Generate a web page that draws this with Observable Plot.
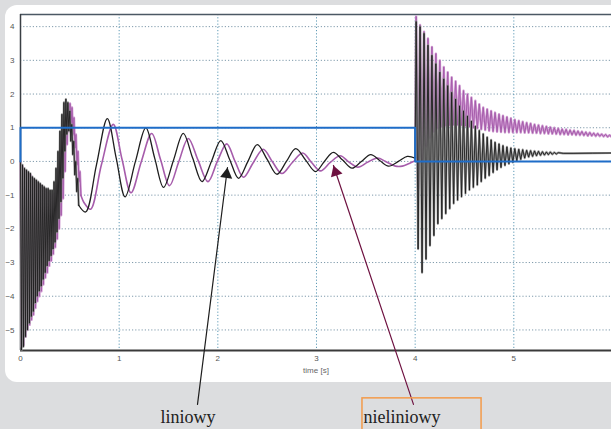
<!DOCTYPE html>
<html>
<head>
<meta charset="utf-8">
<script src="https://cdn.jsdelivr.net/npm/d3@7"></script>
<script src="https://cdn.jsdelivr.net/npm/@observablehq/plot@0.6"></script>
<style>
  html, body { margin: 0; padding: 0; }
  body { width: 611px; height: 429px; background: #dcdddf; position: relative; overflow: hidden; }
  #panel { position: absolute; left: 5px; top: 5px; width: 700px; height: 377px; background: #ffffff; border-radius: 12px; }
  #chart { position: absolute; left: 0; top: 0; }
</style>
</head>
<body>
<div id="panel"></div>
<div id="chart"></div>
<script>
// ---- axes / ticks ----
const xTicks = [0, 1, 2, 3, 4, 5];
const yTicks = [-5, -4, -3, -2, -1, 0, 1, 2, 3, 4];
const xDomain = [0, 5.99];
const yDomain = [-5.61, 4.36];
const xTitle = "time [s]";

// ---- input step (blue) ----
const inputStep = [[0, 0], [0, 1], [4, 1], [4, 0], [5.99, 0]];

// ---- "liniowy" (black) ----
const linearBurst1 = [
  [0.000,0.0],[0.010,-5.6],[0.020,-0.1],[0.030,-5.5],[0.040,-0.2],[0.050,-5.2],[0.060,-0.25],[0.070,-5.0],
  [0.080,-0.3],[0.090,-4.8],[0.100,-0.35],[0.110,-4.6],[0.120,-0.45],[0.130,-4.45],[0.140,-0.5],[0.150,-4.2],
  [0.160,-0.55],[0.170,-4.0],[0.180,-0.6],[0.190,-3.85],[0.200,-0.65],[0.210,-3.7],[0.220,-0.7],[0.230,-3.5],
  [0.240,-0.75],[0.250,-3.3],[0.260,-0.8],[0.270,-3.1],[0.280,-0.8],[0.290,-2.95],[0.300,-0.85],[0.310,-2.8],
  [0.320,-0.85],[0.330,-2.6],[0.340,-0.6],[0.350,-2.4],[0.360,-0.2],[0.370,-2.1],[0.380,0.3],[0.390,-1.7],
  [0.400,0.9],[0.410,-1.2],[0.420,1.4],[0.430,-0.5],[0.440,1.75],[0.450,0.3],[0.460,1.85],[0.470,0.8],
  [0.480,1.75],[0.490,0.9],[0.500,1.5],[0.510,0.6],[0.520,1.1],[0.530,0.2],[0.540,0.6],[0.550,-0.4],
  [0.560,0.0],[0.570,-0.9],[0.580,-0.5],[0.590,-1.3]
];
const linearSmooth = [
  [0.59,-1.3],[0.66,-1.5],[0.77,-0.1],[0.88,1.27],[0.97,0.1],[1.06,-1.05],[1.165,0.0],[1.27,1.0],
  [1.36,0.1],[1.45,-0.77],[1.55,0.03],[1.65,0.83],[1.745,0.1],[1.84,-0.6],[1.935,0.0],[2.03,0.62],
  [2.12,0.06],[2.21,-0.5],[2.305,0.0],[2.40,0.5],[2.50,0.06],[2.60,-0.38],[2.695,0.0],[2.79,0.38],
  [2.89,0.04],[2.99,-0.3],[3.08,0.0],[3.17,0.27],[3.265,0.04],[3.36,-0.2],[3.455,0.0],[3.55,0.2],
  [3.64,0.03],[3.73,-0.14],[3.83,0.0],[3.92,0.15],[4.0,0.1]
];
const linearBurst2 = [
  [4.00,0.1],[4.01,4.15],[4.03,-2.6],[4.05,4.0],[4.07,-3.3],[4.09,3.8],[4.11,-2.9],[4.13,3.45],
  [4.15,-2.5],[4.17,3.15],[4.19,-2.2],[4.21,2.9],[4.23,-1.85],[4.25,2.65],[4.27,-1.7],[4.29,2.45],
  [4.31,-1.55],[4.33,2.25],[4.35,-1.4],[4.37,2.05],[4.39,-1.25],[4.41,1.85],[4.43,-1.15],[4.45,1.65],
  [4.47,-1.05],[4.49,1.5],[4.51,-0.95],[4.53,1.35],[4.55,-0.85],[4.57,1.2],[4.59,-0.77],[4.61,1.05],
  [4.63,-0.7],[4.65,0.92],[4.67,-0.6],[4.69,0.82],[4.71,-0.5],[4.73,0.72],[4.75,-0.42],[4.77,0.64],
  [4.79,-0.33],[4.81,0.57],[4.83,-0.25],[4.85,0.52],[4.87,-0.18],[4.89,0.47],[4.91,-0.12],[4.93,0.43],
  [4.95,-0.07],[4.97,0.4],[4.99,-0.03],[5.01,0.38],[5.03,0.02],[5.05,0.36],[5.07,0.06],[5.09,0.35],
  [5.11,0.1],[5.13,0.33],[5.15,0.13],[5.17,0.32],[5.19,0.15],[5.21,0.31],[5.23,0.17],[5.25,0.3],
  [5.27,0.18],[5.29,0.29],[5.31,0.19],[5.33,0.28],[5.35,0.2],[5.37,0.28],[5.39,0.21],[5.41,0.27],
  [5.43,0.22],[5.45,0.26],[5.50,0.24],[5.60,0.24],[5.80,0.245],[5.99,0.25]
];

// ---- "nieliniowy" (magenta) ----
const nonlinearBurst1 = [
  [0.000,0.0],[0.012,-5.5],[0.022,-0.15],[0.032,-5.45],[0.042,-0.25],[0.052,-5.2],[0.062,-0.3],[0.072,-5.0],
  [0.082,-0.35],[0.092,-4.85],[0.102,-0.4],[0.112,-4.7],[0.122,-0.5],[0.132,-4.55],[0.142,-0.55],[0.152,-4.35],
  [0.162,-0.6],[0.172,-4.15],[0.182,-0.65],[0.192,-4.0],[0.202,-0.7],[0.212,-3.85],[0.222,-0.75],[0.232,-3.65],
  [0.242,-0.8],[0.252,-3.45],[0.262,-0.85],[0.272,-3.3],[0.282,-0.9],[0.292,-3.1],[0.302,-0.95],[0.312,-2.95],
  [0.322,-1.0],[0.332,-2.75],[0.342,-0.95],[0.352,-2.55],[0.362,-0.7],[0.372,-2.3],[0.382,-0.2],[0.392,-2.0],
  [0.402,0.3],[0.412,-1.6],[0.422,0.8],[0.432,-1.1],[0.442,1.2],[0.452,-0.3],[0.462,1.5],[0.472,0.5],
  [0.482,1.65],[0.492,0.9],[0.502,1.72],[0.512,1.0],[0.522,1.6],[0.532,0.8],[0.542,1.3],[0.552,0.4],
  [0.562,0.8],[0.572,-0.1],[0.582,0.3],[0.592,-0.6],[0.602,-0.3],[0.612,-1.0]
];
const nonlinearSmooth = [
  [0.612,-1.0],[0.65,-1.25],[0.71,-1.42],[0.82,-0.1],[0.94,1.1],[1.03,0.05],[1.12,-0.93],[1.225,0.0],
  [1.33,0.83],[1.42,0.05],[1.51,-0.72],[1.605,0.0],[1.70,0.68],[1.80,0.03],[1.90,-0.6],[1.995,0.0],
  [2.09,0.52],[2.175,0.0],[2.26,-0.47],[2.36,-0.03],[2.46,0.36],[2.555,-0.02],[2.65,-0.36],[2.755,-0.03],
  [2.86,0.25],[2.95,-0.03],[3.04,-0.28],[3.14,-0.03],[3.24,0.17],[3.33,-0.02],[3.42,-0.17],[3.52,-0.02],
  [3.62,0.1],[3.70,0.0],[3.80,-0.14],[3.87,-0.14],[3.94,-0.06],[4.0,0.02]
];
const nonlinearBurst2 = [
  [4.00,0.02],[4.01,4.3],[4.03,-0.8],[4.05,4.05],[4.07,0.0],[4.09,3.85],[4.11,0.45],[4.13,3.65],
  [4.15,0.7],[4.17,3.4],[4.19,0.88],[4.21,3.2],[4.23,0.98],[4.25,3.0],[4.27,1.03],[4.29,2.8],
  [4.31,1.06],[4.33,2.65],[4.35,1.07],[4.37,2.5],[4.39,1.08],[4.41,2.38],[4.43,1.08],[4.45,2.25],
  [4.47,1.07],[4.49,2.1],[4.51,1.05],[4.53,2.0],[4.55,1.03],[4.57,1.9],[4.59,1.0],[4.61,1.8],
  [4.63,0.98],[4.65,1.7],[4.67,0.95],[4.69,1.6],[4.71,0.93],[4.73,1.55],[4.75,0.91],[4.77,1.5],
  [4.79,0.89],[4.81,1.45],[4.83,0.88],[4.85,1.4],[4.87,0.87],[4.89,1.36],[4.91,0.86],[4.93,1.32],
  [4.95,0.86],[4.97,1.28],[4.99,0.86],[5.01,1.24],[5.03,0.86],[5.05,1.21],[5.07,0.86],[5.09,1.18],
  [5.11,0.85],[5.13,1.15],[5.15,0.85],[5.17,1.13],[5.19,0.84],[5.21,1.1],[5.23,0.84],[5.25,1.08],
  [5.27,0.83],[5.29,1.06],[5.31,0.83],[5.33,1.04],[5.35,0.82],[5.37,1.02],[5.39,0.82],[5.41,1.0],
  [5.43,0.81],[5.45,0.98],[5.47,0.8],[5.49,0.96],[5.51,0.8],[5.53,0.95],[5.55,0.79],[5.57,0.93],
  [5.59,0.79],[5.61,0.92],[5.63,0.78],[5.65,0.9],[5.67,0.78],[5.69,0.89],[5.71,0.77],[5.73,0.87],
  [5.75,0.76],[5.77,0.86],[5.79,0.76],[5.81,0.84],[5.83,0.75],[5.85,0.83],[5.87,0.75],[5.89,0.81],
  [5.91,0.74],[5.93,0.8],[5.95,0.73],[5.97,0.78],[5.99,0.73]
];

// ---- annotations ----
const labels = [
  {text: "liniowy", x: 1.419, y: -7.77},
  {text: "nieliniowy", x: 3.477, y: -7.77}
];
const arrowLinear = [{x1: 1.794, y1: -7.21, x2: 2.098, y2: -0.18, rot: 7.2}];
const arrowNonlinear = [{x1: 3.983, y1: -7.21, x2: 3.172, y2: -0.12, rot: -18.5}];
const labelBox = [{x1: 3.466, x2: 4.673, y1: -7.03, y2: -8.3}];

const colors = {linear: "#1e1e1e", linearHalo: "#8c8c8c", nonlinear: "#a65cab", nonlinearHalo: "#cf9bd2",
                input: "#1f6dc8", arrowNL: "#6e1140", box: "#f39a4a"};

const px = d => d[0], py = d => d[1];

const chart = Plot.plot({
  width: 611,
  height: 429,
  marginLeft: 20,
  marginRight: 0,
  marginTop: 14,
  marginBottom: 79,
  x: {domain: xDomain},
  y: {domain: yDomain},
  style: {background: "transparent", fontFamily: "Liberation Sans, Arial, sans-serif", overflow: "visible"},
  marks: [
    Plot.gridY(yTicks, {stroke: "#7f9aab", strokeOpacity: 1, strokeWidth: 1, strokeDasharray: "1.2,2"}),
    Plot.gridX(xTicks.slice(1), {stroke: "#5e9ab6", strokeOpacity: 1, strokeWidth: 1, strokeDasharray: "1.2,2"}),
    Plot.ruleY([yDomain[1]], {stroke: "#4b5864", strokeWidth: 1.5}),
    Plot.ruleX([xDomain[0]], {stroke: "#3a3f44", strokeWidth: 1.5}),
    Plot.ruleY([yDomain[0]], {stroke: "#3a3a3a", strokeWidth: 2}),
    // nonlinear (magenta)
    Plot.line(nonlinearBurst1, {x: px, y: py, stroke: colors.nonlinearHalo, strokeWidth: 2.4}),
    Plot.line(nonlinearBurst2, {x: px, y: py, stroke: colors.nonlinearHalo, strokeWidth: 2.4}),
    Plot.line(nonlinearBurst1, {x: px, y: py, stroke: colors.nonlinear, strokeWidth: 1}),
    Plot.line(nonlinearSmooth, {x: px, y: py, stroke: colors.nonlinear, strokeWidth: 1.6, curve: "catmull-rom"}),
    Plot.line(nonlinearBurst2, {x: px, y: py, stroke: colors.nonlinear, strokeWidth: 1}),
    // linear (black)
    Plot.line(linearBurst1, {x: px, y: py, stroke: colors.linearHalo, strokeWidth: 2.2, strokeOpacity: 0.9}),
    Plot.line(linearBurst2, {x: px, y: py, stroke: colors.linearHalo, strokeWidth: 2.2, strokeOpacity: 0.9}),
    Plot.line(linearBurst1, {x: px, y: py, stroke: colors.linear, strokeWidth: 0.9}),
    Plot.line(linearSmooth, {x: px, y: py, stroke: colors.linear, strokeWidth: 1.3, curve: "catmull-rom"}),
    Plot.line(linearBurst2, {x: px, y: py, stroke: colors.linear, strokeWidth: 0.9}),
    // input step
    Plot.line(inputStep, {x: px, y: py, stroke: colors.input, strokeWidth: 2}),
    // axes
    Plot.axisX(xTicks, {tickSize: 0, tickPadding: 5, fontSize: 8, fill: "#555", label: null}),
    Plot.axisY(yTicks, {tickSize: 0, tickPadding: 6, fontSize: 8, fill: "#555", label: null}),
    Plot.text([xTitle], {frameAnchor: "bottom", dy: 22, fontSize: 8, fill: "#666"}),
    // annotations
    Plot.arrow(arrowLinear, {x1: "x1", y1: "y1", x2: "x2", y2: "y2", stroke: colors.linear, strokeWidth: 1.2, headLength: 0}),
    Plot.dot(arrowLinear, {x: "x2", y: "y2", symbol: "triangle", r: 4.5, fill: colors.linear, stroke: null, rotate: "rot", dx: -0.9, dy: 6.9}),
    Plot.arrow(arrowNonlinear, {x1: "x1", y1: "y1", x2: "x2", y2: "y2", stroke: colors.arrowNL, strokeWidth: 1.2, headLength: 0}),
    Plot.dot(arrowNonlinear, {x: "x2", y: "y2", symbol: "triangle", r: 4.5, fill: colors.arrowNL, stroke: null, rotate: "rot", dx: 2.2, dy: 6.6}),
    Plot.rect(labelBox, {x1: "x1", x2: "x2", y1: "y1", y2: "y2", fill: "none", stroke: colors.box, strokeWidth: 1.5}),
    Plot.text(labels, {x: "x", y: "y", text: "text", textAnchor: "start", lineAnchor: "bottom", fontSize: 18, fontFamily: "Liberation Serif, DejaVu Serif, serif", fill: "#222"})
  ]
});
document.getElementById("chart").appendChild(chart);
</script>
</body>
</html>
